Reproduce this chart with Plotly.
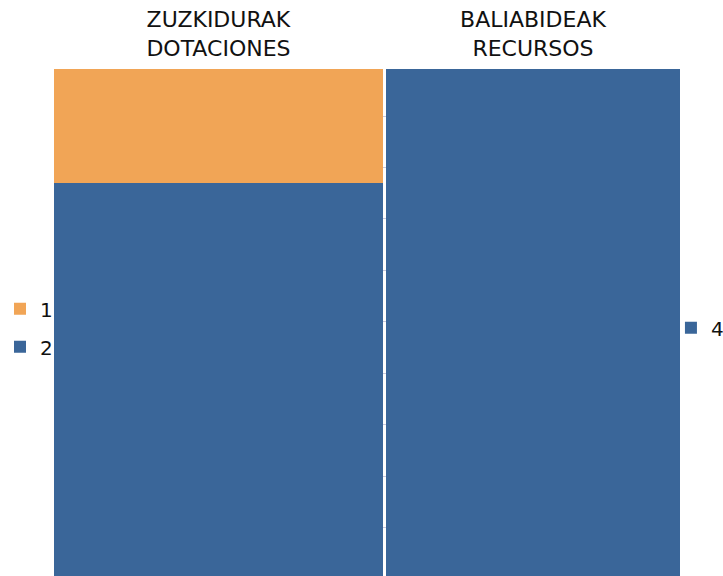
import plotly.graph_objects as go

# Data
columns = ["ZUZKIDURAK<br>DOTACIONES", "BALIABIDEAK<br>RECURSOS"]
column_shares = [52.8, 47.2]          # width share of each column
series_names = ["2", "1", "4"]
series_values = {
    "2": [77.9, None],
    "1": [22.1, None],
    "4": [None, 100.0],
}
series_colors = {"1": "#F1A556", "2": "#3A6699", "4": "#3A6699"}
series_legend = {"1": "legend", "2": "legend", "4": "legend2"}
series_rank = {"1": 1, "2": 2, "4": 3}

gap = 0.5
centers = []
edge = 0.0
for i, w in enumerate(column_shares):
    centers.append(edge + w / 2)
    edge += w + gap
total_w = edge - gap

fig = go.Figure()
for name in series_names:
    fig.add_trace(go.Bar(
        x=centers,
        y=series_values[name],
        width=column_shares,
        name=name,
        marker=dict(color=series_colors[name], line=dict(width=0)),
        legend=series_legend[name],
        legendgroup=name,
        legendrank=series_rank[name],
        hoverinfo="skip",
    ))

fig.update_layout(
    width=723, height=576,
    barmode="stack",
    plot_bgcolor="white", paper_bgcolor="white",
    margin=dict(l=54, r=43, t=69, b=0, pad=0, autoexpand=False),
    font=dict(family="DejaVu Sans", color="#111111"),
    xaxis=dict(
        range=[0, total_w], side="top", automargin=False,
        tickvals=centers, ticktext=columns,
        tickfont=dict(size=22, color="#111111"),
        ticklabelstandoff=8,
        showgrid=False, zeroline=False, ticks="", showline=False,
        fixedrange=True,
    ),
    yaxis=dict(
        range=[1.55, 100], showticklabels=False, automargin=False,
        showgrid=True, gridcolor="#C9C9DD", gridwidth=1,
        tick0=0.874, dtick=10, zeroline=False, ticks="", showline=False,
        fixedrange=True,
    ),
    legend=dict(
        xref="container", yref="container",
        x=0.0, y=0.431, xanchor="left", yanchor="middle",
        font=dict(size=20, color="#111111"),
        traceorder="grouped", tracegroupgap=9,
        bgcolor="rgba(0,0,0,0)",
    ),
    legend2=dict(
        xref="container", yref="container",
        x=0.928, y=0.431, xanchor="left", yanchor="middle",
        font=dict(size=20, color="#111111"),
        bgcolor="rgba(0,0,0,0)",
    ),
    showlegend=True,
)

fig.write_html(
    "out.html",
    config={"displayModeBar": False},
    post_script="document.body.style.margin='0px';",
)
